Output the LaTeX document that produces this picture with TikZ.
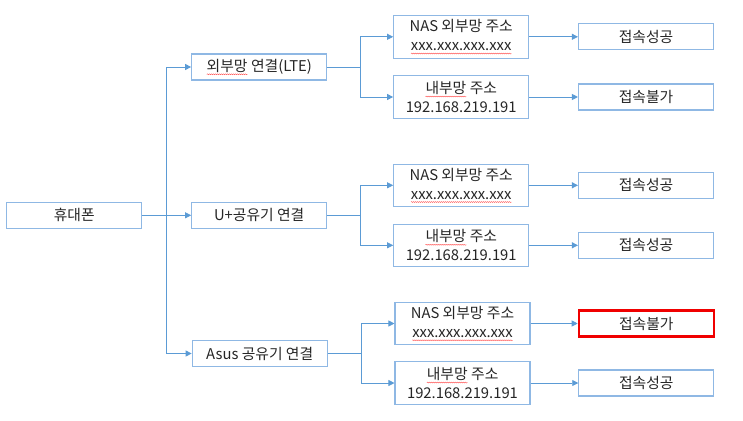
\documentclass[tikz,border=0pt]{standalone}
\usepackage{fontspec}
\setmainfont{Noto Sans CJK KR}
\usetikzlibrary{arrows.meta,decorations.pathmorphing}
\definecolor{boxline}{HTML}{8FB8E4}
\definecolor{arrline}{HTML}{5B9BD5}
\definecolor{txt}{HTML}{262626}
\definecolor{redbox}{HTML}{F00000}
\tikzset{
  plain/.style={draw=none, fill=none, inner sep=0pt, outer sep=0pt, minimum width=0pt, minimum height=0pt},
  wavy/.style={draw=red!75!white, line width=0.35pt, decorate, decoration={snake,amplitude=0.5pt,segment length=2pt}},
  box/.style={draw=boxline, line width=1.1pt, fill=white, inner sep=0pt, minimum width=135pt,
    minimum height=26pt, text=txt, font=\fontsize{14.8}{19}\selectfont, align=center},
  tallbox/.style={box, minimum height=42.5pt},
  failbox/.style={box, draw=redbox, line width=2.2pt},
  conn/.style={draw=arrline, line width=0.8pt},
  arr/.style={conn, -{Triangle[width=6pt,length=6pt]}}
}
\newcommand\squig[1]{\tikz[baseline=(w.base)]{\node[plain] (w) {#1};
  \path[wavy] ([yshift=-3pt]w.base west) -- ([yshift=-3pt]w.base east);}}
\begin{document}
\begin{tikzpicture}[x=1pt,y=-1pt]
\useasboundingbox (0,0) rectangle (743,420);
% level 1
\node[box] (hp) at (74.2,215.3) {휴대폰};
% level 2
\node[box] (la) at (259.2,67) {\squig{외부망} 연결(LTE)};
\node[box] (lb) at (259.2,215.3) {U+공유기 연결};
\node[box] (lc) at (259.7,353.5) {Asus 공유기 연결};
% level 3
\node[tallbox] (a1) at (461.2,36.8) {NAS 외부망 주소\\\squig{xxx.xxx.xxx.xxx}};
\node[tallbox] (a2) at (461.2,97) {\squig{내부망} 주소\\192.168.219.191};
\node[tallbox] (b1) at (461.2,185.3) {NAS 외부망 주소\\\squig{xxx.xxx.xxx.xxx}};
\node[tallbox] (b2) at (461.2,245.3) {\squig{내부망} 주소\\192.168.219.191};
\node[tallbox] (c1) at (462.5,323.5) {NAS 외부망 주소\\\squig{xxx.xxx.xxx.xxx}};
\node[tallbox] (c2) at (462.5,383) {\squig{내부망} 주소\\192.168.219.191};
% level 4
\node[box] (a1r) at (646,36.8) {접속성공};
\node[box] (a2r) at (646,97) {접속불가};
\node[box] (b1r) at (646,185.3) {접속성공};
\node[box] (b2r) at (646,245.3) {접속성공};
\node[failbox] (c1r) at (646.3,323.5) {접속불가};
\node[box] (c2r) at (646.3,383) {접속성공};
% trunk from phone
\coordinate (t0) at (166.3,215.3);
\draw[conn] (hp.east) -- (t0);
\draw[arr] (t0) |- (la.west);
\draw[arr] (t0) -- (lb.west);
\draw[arr] (t0) |- (lc.west);
% branches to level 3
\coordinate (ta) at (360,67);
\coordinate (tb) at (360,215.3);
\coordinate (tc) at (361,353.5);
\draw[conn] (la.east) -- (ta);
\draw[arr] (ta) |- (a1.west);
\draw[arr] (ta) |- (a2.west);
\draw[conn] (lb.east) -- (tb);
\draw[arr] (tb) |- (b1.west);
\draw[arr] (tb) |- (b2.west);
\draw[conn] (lc.east) -- (tc);
\draw[arr] (tc) |- (c1.west);
\draw[arr] (tc) |- (c2.west);
% level 3 to level 4
\draw[arr] (a1.east) -- (a1r.west);
\draw[arr] (a2.east) -- (a2r.west);
\draw[arr] (b1.east) -- (b1r.west);
\draw[arr] (b2.east) -- (b2r.west);
\draw[arr] (c1.east) -- (c1r.west);
\draw[arr] (c2.east) -- (c2r.west);
\end{tikzpicture}
\end{document}
